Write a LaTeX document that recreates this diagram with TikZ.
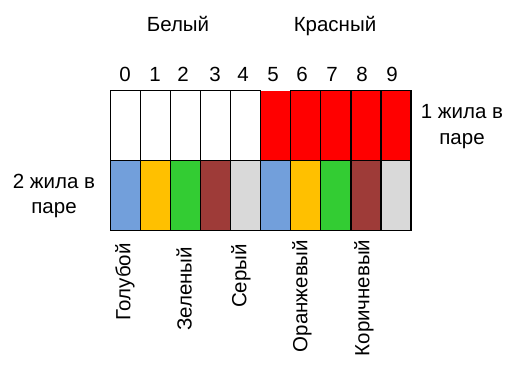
\documentclass[tikz,border=0pt]{standalone}
\usepackage{fontspec}
\setmainfont{Liberation Sans}
\usepackage{tikz}

\definecolor{wireblue}{RGB}{114,159,219}
\definecolor{wireorange}{RGB}{255,192,0}
\definecolor{wiregreen}{RGB}{51,204,51}
\definecolor{wirebrown}{RGB}{158,59,56}
\definecolor{wiregrey}{RGB}{217,217,217}

\begin{document}
\begin{tikzpicture}[x=1pt,y=-1pt,
  cell/.style={draw=black,line width=1.2pt},
  lbl/.style={font=\fontsize{20.5}{25.5}\selectfont,inner sep=0pt,align=center},
  vlbl/.style={lbl,rotate=90}]
  \useasboundingbox (0,0) rectangle (515,367);
  % first wire of the pair
  \foreach \i in {0,...,4}
    \draw[cell,fill=white] (110.5+30.05*\i,90.5) rectangle ++(30.05,69.7);
  \fill[red] (260.75,90.5) rectangle ++(30.05,69.7);
  \foreach \i in {6,...,9}
    \draw[cell,fill=red] (110.5+30.05*\i,90.5) rectangle ++(30.05,69.7);
  % second wire of the pair
  \foreach \i/\c in {0/wireblue,1/wireorange,2/wiregreen,3/wirebrown,4/wiregrey,
                     5/wireblue,6/wireorange,7/wiregreen,8/wirebrown,9/wiregrey}
    \draw[cell,fill=\c] (110.5+30.05*\i,160.2) rectangle ++(30.05,70.3);
  % numbers
  \foreach \i/\x in {0/125,1/155,2/183,3/215,4/243,5/273,6/302,7/332,8/362,9/392}
    \node[lbl,anchor=base] (n\i) at (\x,81.5) {\i};
  \node[lbl,anchor=base] (white) at (178,31.7) {Белый};
  \node[lbl,anchor=base] (red) at (335,31.7) {Красный};
  \node[lbl] (first) at (462,126.5) {1 жила в\\паре};
  \node[lbl] (second) at (54,196) {2 жила в\\паре};
  % colour names
  \node[vlbl] (blue) at (125,282) {Голубой};
  \node[vlbl] (green) at (184,289) {Зеленый};
  \node[vlbl] (grey) at (241,276) {Серый};
  \node[vlbl] (orange) at (302,296) {Оранжевый};
  \node[vlbl] (brown) at (364,298) {Коричневый};
\end{tikzpicture}
\end{document}
